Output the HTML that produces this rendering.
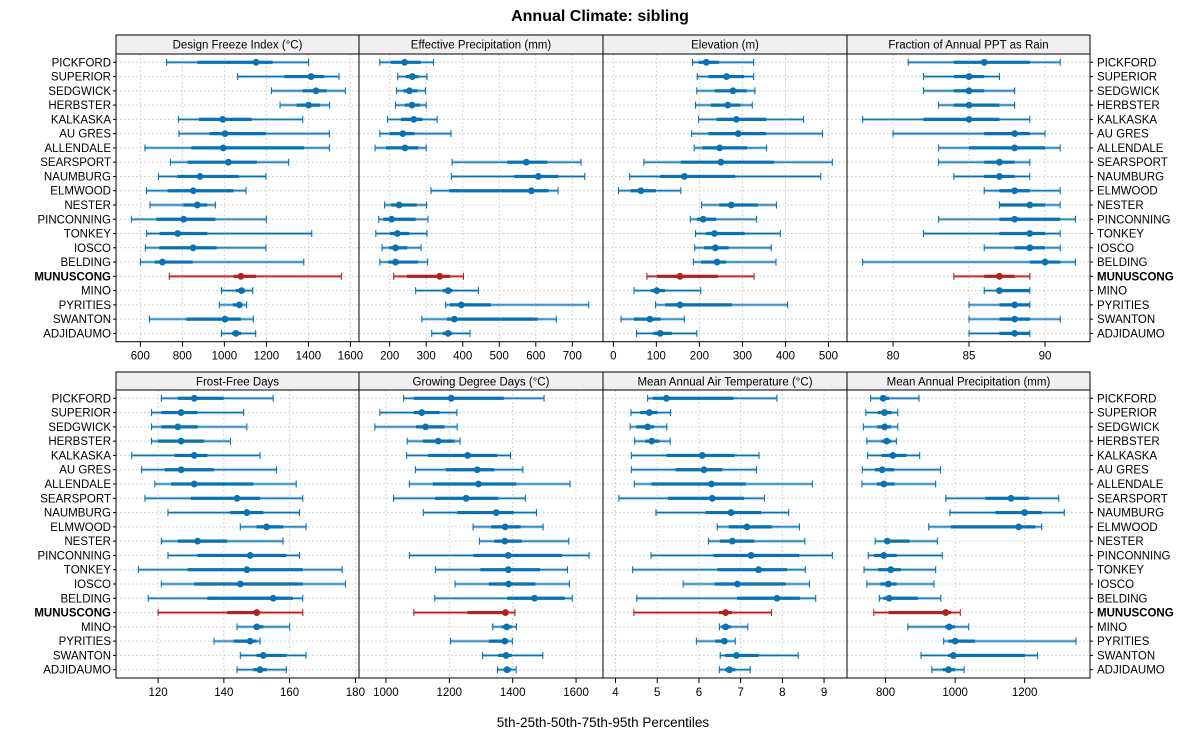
<!DOCTYPE html>
<html><head><meta charset="utf-8"><title>Annual Climate: sibling</title>
<style>
html,body{margin:0;padding:0;background:#fff;}
svg{display:block;font-family:"Liberation Sans",sans-serif;}
</style></head>
<body>
<svg id="chart" width="1200" height="750" viewBox="0 0 1200 750">
<text x="600" y="21" text-anchor="middle" font-size="16" font-weight="bold">Annual Climate: sibling</text>
<text x="603" y="727" text-anchor="middle" font-size="13.5">5th-25th-50th-75th-95th Percentiles</text>
</svg>
<script>
const sites = ["PICKFORD","SUPERIOR","SEDGWICK","HERBSTER","KALKASKA","AU GRES","ALLENDALE","SEARSPORT","NAUMBURG","ELMWOOD","NESTER","PINCONNING","TONKEY","IOSCO","BELDING","MUNUSCONG","MINO","PYRITIES","SWANTON","ADJIDAUMO"];
const highlightSite = "MUNUSCONG";
const panelTitles = ["Design Freeze Index (\u00B0C)","Effective Precipitation (mm)","Elevation (m)","Fraction of Annual PPT as Rain","Frost-Free Days","Growing Degree Days (\u00B0C)","Mean Annual Air Temperature (\u00B0C)","Mean Annual Precipitation (mm)"];
const ticksDFI = [600,800,1000,1200,1400,1600];
const ticksEP = [200,300,400,500,600,700];
const ticksElev = [0,100,200,300,400,500];
const ticksRain = [80,85,90];
const ticksFFD = [120,140,160,180];
const ticksGDD = [1000,1200,1400,1600];
const ticksMAAT = [4,5,6,7,8,9];
const ticksMAP = [800,1000,1200];
// percentiles per site: [p5,p25,p50,p75,p95]
const valuesDFI = [[725,871,1151,1230,1401],[1063,1286,1413,1475,1546],[1224,1373,1436,1487,1576],[1265,1344,1401,1455,1501],[781,879,992,1130,1373],[784,929,1003,1197,1500],[622,843,995,1379,1500],[743,825,1019,1155,1306],[686,776,884,1068,1198],[629,730,852,1043,1103],[646,805,871,919,957],[557,676,806,957,1200],[630,692,778,919,1416],[624,690,851,963,1198],[600,668,705,849,1378],[738,1043,1079,1151,1557],[986,1055,1082,1098,1135],[976,1040,1071,1087,1106],[643,819,1003,1078,1138],[986,1036,1055,1079,1149]];
const valuesEP = [[173,203,241,285,320],[222,244,262,279,302],[219,237,254,276,298],[216,242,261,283,300],[194,231,266,290,330],[173,200,236,268,368],[160,190,242,278,300],[371,522,574,632,724],[369,541,607,662,734],[313,363,588,635,661],[186,204,226,274,301],[170,182,205,271,305],[162,201,221,254,302],[179,199,216,248,286],[173,196,216,277,304],[211,247,337,365,402],[271,346,360,372,443],[353,365,396,477,745],[288,357,377,605,656],[315,346,360,371,420]];
const valuesElev = [[184,198,216,246,326],[195,221,263,304,326],[194,235,278,310,329],[191,227,266,295,323],[198,240,286,355,442],[182,221,290,355,486],[188,207,247,311,356],[71,157,250,373,509],[38,109,165,283,482],[12,40,64,99,157],[205,246,274,336,379],[179,194,209,239,333],[191,216,235,305,388],[189,211,237,268,367],[186,204,241,262,378],[78,101,155,243,327],[48,87,101,120,203],[98,121,155,276,405],[18,48,85,110,165],[54,93,109,136,194]];
const valuesRain = [[81,84,86,89,91],[82,84,85,86,87],[82,84,85,86,88],[83,84,85,87,88],[78,82,85,87,89],[80,86,88,89,90],[83,85,88,90,91],[83,86,87,88,89],[84,86,87,88,89],[86,87,88,89,91],[87,87,89,90,91],[83,87,88,91,92],[82,87,89,90,91],[86,88,89,90,91],[78,89,90,91,92],[84,86,87,88,89],[86,87,87,89,89],[85,87,88,89,89],[85,87,88,89,91],[85,87,88,89,89]];
const valuesFFD = [[121,126,131,140,155],[118,121,127,132,146],[118,121,126,132,147],[118,120,127,134,142],[112,125,131,135,151],[115,122,127,137,156],[119,124,131,149,162],[116,130,144,151,164],[123,142,147,152,163],[145,150,153,158,165],[121,126,132,141,158],[123,132,148,159,163],[114,129,147,164,176],[121,131,145,164,177],[117,135,155,161,164],[120,141,150,151,164],[144,149,150,152,160],[137,143,148,150,151],[145,150,152,159,165],[144,149,151,153,159]];
const valuesGDD = [[1056,1088,1206,1372,1499],[981,1088,1113,1169,1224],[965,1095,1125,1185,1225],[1067,1117,1165,1216,1234],[1065,1133,1258,1351,1393],[1093,1189,1288,1342,1432],[1074,1148,1292,1411,1581],[1024,1155,1253,1355,1440],[1118,1225,1348,1403,1475],[1275,1332,1376,1425,1496],[1295,1342,1375,1429,1577],[1074,1276,1386,1555,1641],[1156,1298,1386,1486,1573],[1218,1325,1387,1472,1579],[1154,1383,1469,1564,1588],[1088,1257,1377,1386,1407],[1337,1365,1381,1397,1412],[1204,1325,1375,1386,1399],[1305,1355,1379,1397,1495],[1352,1371,1382,1395,1411]];
const valuesMAAT = [[4.77,4.89,5.22,6.83,7.87],[4.37,4.59,4.81,5.00,5.32],[4.35,4.50,4.77,4.93,5.23],[4.46,4.71,4.87,5.05,5.31],[4.38,5.22,6.08,6.85,7.44],[4.38,5.44,6.12,6.56,7.38],[4.45,4.86,6.30,7.12,8.72],[4.08,5.26,6.32,7.08,7.57],[4.97,6.16,6.77,7.49,8.15],[6.44,6.72,7.15,7.75,8.41],[6.23,6.50,6.80,7.33,8.54],[4.85,6.35,7.25,8.40,9.20],[4.41,6.44,7.43,8.11,8.55],[5.62,6.38,6.92,8.08,8.65],[4.51,6.92,7.87,8.42,8.80],[4.44,6.48,6.64,6.79,7.74],[6.49,6.54,6.64,6.76,7.17],[5.94,6.39,6.61,6.68,6.87],[6.51,6.63,6.90,7.43,8.38],[6.49,6.63,6.73,6.87,7.23]];
const valuesMAP = [[757,784,793,811,896],[743,778,797,817,835],[736,776,797,816,835],[746,788,803,816,831],[748,789,821,860,898],[733,769,790,825,958],[732,775,795,826,944],[973,1087,1161,1213,1298],[985,1116,1200,1249,1314],[924,988,1183,1230,1249],[770,796,805,869,949],[750,767,795,832,963],[738,779,815,844,944],[746,785,808,832,939],[782,794,810,893,959],[766,809,973,988,1015],[864,971,983,1000,1039],[967,981,1000,1057,1348],[902,980,995,1201,1237],[933,965,981,1000,1026]];

const NS = "http://www.w3.org/2000/svg";
const svg = document.getElementById("chart");
function mk(tag, attrs, parent){
  const e = document.createElementNS(NS, tag);
  for (const k in attrs) e.setAttribute(k, attrs[k]);
  (parent||svg).appendChild(e);
  return e;
}
const colX = [[116,359],[359,603],[603,847],[847,1090]];
const rowY = [{strip:[35,54],panel:[54,341.7]},{strip:[372,390],panel:[390,678]}];
const domains = [[484,1641],[116,784],[-24,543],[76.97,92.96],[107.2,181.1],[915,1685],[3.70,9.55],[689,1388]];
const allValues = [valuesDFI,valuesEP,valuesElev,valuesRain,valuesFFD,valuesGDD,valuesMAAT,valuesMAP];
const allTicks = [ticksDFI,ticksEP,ticksElev,ticksRain,ticksFFD,ticksGDD,ticksMAAT,ticksMAP];

for (let p=0;p<8;p++){
  const c = p%4, r = Math.floor(p/4);
  const [x0,x1] = colX[c]; const [y0,y1] = rowY[r].panel; const [s0,s1] = rowY[r].strip;
  const [d0,d1] = domains[p];
  const xs = v => x0 + (v-d0)/(d1-d0)*(x1-x0);
  const ys = i => y0 + 8.3 + i*((y1-y0-16.6)/19);
  const g = mk("g",{});
  
  
  // strip
  const st = mk("rect",{x:x0,y:s0,width:x1-x0,height:s1-s0,fill:"#f0f0f0",stroke:"#000","stroke-width":1},g);
  
  
  const stt = mk("text",{x:(x0+x1)/2,y:s0+13.5,"text-anchor":"middle","font-size":"11.5",fill:"#000"},g);
  stt.textContent = panelTitles[p];
  
  
  // grid
  for (let i=0;i<20;i++){
    const gl = mk("line",{x1:x0,x2:x1,y1:ys(i),y2:ys(i),stroke:"#c8c8c8","stroke-width":1,"stroke-dasharray":"1.5,2.5"},g);
    
    
  }
  allTicks[p].forEach(t=>{
    const x = xs(t);
    if (x>x0+1 && x<x1-1){
      const vl = mk("line",{x1:x,x2:x,y1:y0,y2:y1,stroke:"#c8c8c8","stroke-width":1,"stroke-dasharray":"1.5,2.5"},g);
      
      
    }
    const tk = mk("line",{x1:x,x2:x,y1:y1,y2:y1+5,stroke:"#000","stroke-width":1},g);
    
    
    const tl = mk("text",{x:x,y:y1+18,"text-anchor":"middle","font-size":"11.5",fill:"#000"},g);
    tl.textContent = String(t);
    
    
  });
  // series
  allValues[p].forEach((v,i)=>{
    const hl = sites[i]===highlightSite;
    const col = hl ? "#b22222" : "#0a72b0";
    const light = hl ? "#e3a0a0" : "#9cc8e3";
    const y = ys(i);
    const sg = mk("g",{},g);
    
    
    mk("line",{x1:xs(v[0]),x2:xs(v[4]),y1:y,y2:y,stroke:light,"stroke-width":3},sg);
    mk("line",{x1:xs(v[0]),x2:xs(v[4]),y1:y,y2:y,stroke:col,"stroke-width":1.1},sg);
    mk("line",{x1:xs(v[0]),x2:xs(v[0]),y1:y-3.5,y2:y+3.5,stroke:col,"stroke-width":1.1},sg);
    mk("line",{x1:xs(v[4]),x2:xs(v[4]),y1:y-3.5,y2:y+3.5,stroke:col,"stroke-width":1.1},sg);
    mk("line",{x1:xs(v[1]),x2:xs(v[3]),y1:y,y2:y,stroke:col,"stroke-width":3.2},sg);
    mk("circle",{cx:xs(v[2]),cy:y,r:3.4,fill:col},sg);
  });
  const bd = mk("rect",{x:x0,y:y0,width:x1-x0,height:y1-y0,fill:"none",stroke:"#000","stroke-width":1},g);
  
  
  // site labels
  if (c===0 || c===3){
    sites.forEach((s,i)=>{
      const t = mk("text",{x: c===0 ? x0-5 : x1+7, y: ys(i)+4, "text-anchor": c===0?"end":"start","font-size":"11.5",fill:"#000"},g);
      if (s===highlightSite) t.setAttribute("font-weight","bold");
      t.textContent = s;
      
      
      const tk = mk("line",{x1: c===0?x0-3:x1, x2: c===0?x0:x1+3, y1:ys(i), y2:ys(i), stroke:"#000"},g);
      
      
    });
  }
}
</script>
</body></html>
